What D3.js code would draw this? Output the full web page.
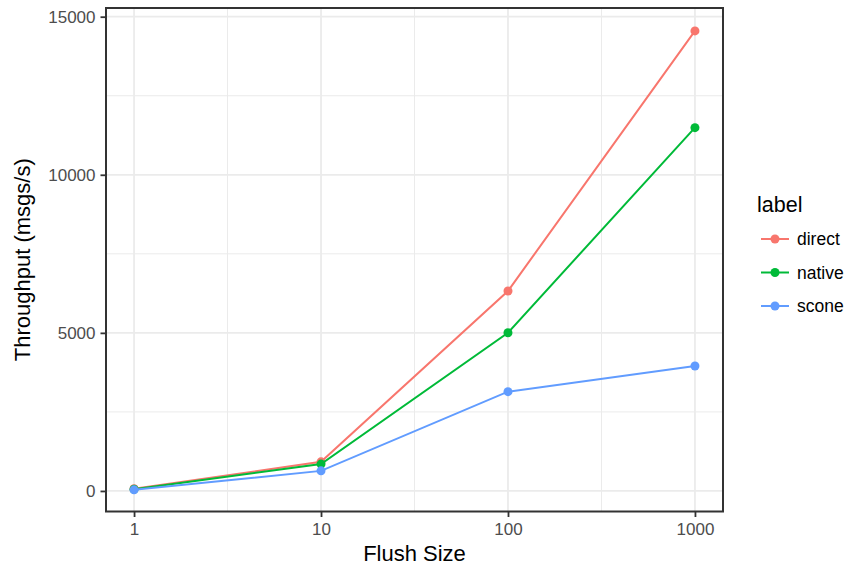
<!DOCTYPE html>
<html>
<head>
<meta charset="utf-8">
<script src="https://cdn.jsdelivr.net/npm/d3@7"></script>
<style>
  body { margin: 0; background: #fff; }
  text { font-family: "Liberation Sans", Arial, sans-serif; }
</style>
</head>
<body>
<svg id="chart"></svg>
<script>
// Flush sizes on the x axis (log scale)
const flushSizes = [1, 10, 100, 1000];

// Throughput per label (msgs/s)
const labels = ["direct", "native", "scone"];
const directValues = [70, 920, 6325, 14550];
const nativeValues = [55, 850, 5005, 11490];
const sconeValues = [35, 635, 3140, 3953];

const yTicks = [0, 5000, 10000, 15000];
const yLimits = [-650, 15275];
const colors = ["#F8766D", "#00BA38", "#619CFF"];

const width = 847;
const height = 570;
const margin = { top: 8, right: 124, bottom: 58.5, left: 106 };

const svg = d3.select("#chart")
  .attr("width", width)
  .attr("height", height);

const series = labels.map((name, i) => ({
  name,
  color: colors[i],
  values: [directValues, nativeValues, sconeValues][i].map((v, j) => ({ x: flushSizes[j], y: v }))
}));

// Scales with ggplot-like 5% expansion on the log x axis
const xLo = Math.log10(1), xHi = Math.log10(1000);
const xPad = (xHi - xLo) * 0.05;
const x = d3.scaleLog()
  .domain([Math.pow(10, xLo - xPad), Math.pow(10, xHi + xPad)])
  .range([margin.left, width - margin.right]);

const y = d3.scaleLinear()
  .domain(yLimits)
  .range([height - margin.bottom, margin.top]);

const plot = svg.append("g");

// Minor gridlines
const xMinor = [Math.sqrt(10), Math.sqrt(1000), Math.sqrt(100000)];
const yMinor = [2500, 7500, 12500];
plot.selectAll(".xminor").data(xMinor).enter().append("line")
  .attr("x1", d => x(d)).attr("x2", d => x(d))
  .attr("y1", margin.top).attr("y2", height - margin.bottom)
  .attr("stroke", "#ebebeb").attr("stroke-width", 1);
plot.selectAll(".yminor").data(yMinor).enter().append("line")
  .attr("x1", margin.left).attr("x2", width - margin.right)
  .attr("y1", d => y(d)).attr("y2", d => y(d))
  .attr("stroke", "#ebebeb").attr("stroke-width", 1);

// Major gridlines
plot.selectAll(".xmajor").data(flushSizes).enter().append("line")
  .attr("x1", d => x(d)).attr("x2", d => x(d))
  .attr("y1", margin.top).attr("y2", height - margin.bottom)
  .attr("stroke", "#ebebeb").attr("stroke-width", 1.8);
plot.selectAll(".ymajor").data(yTicks).enter().append("line")
  .attr("x1", margin.left).attr("x2", width - margin.right)
  .attr("y1", d => y(d)).attr("y2", d => y(d))
  .attr("stroke", "#ebebeb").attr("stroke-width", 1.8);

// Lines and points
const line = d3.line().x(d => x(d.x)).y(d => y(d.y));
series.forEach(s => {
  plot.append("path")
    .datum(s.values)
    .attr("fill", "none")
    .attr("stroke", s.color)
    .attr("stroke-width", 2)
    .attr("d", line);
  plot.selectAll(null).data(s.values).enter().append("circle")
    .attr("cx", d => x(d.x))
    .attr("cy", d => y(d.y))
    .attr("r", 4.5)
    .attr("fill", s.color);
});

// Panel border
svg.append("rect")
  .attr("x", margin.left).attr("y", margin.top)
  .attr("width", width - margin.left - margin.right)
  .attr("height", height - margin.top - margin.bottom)
  .attr("fill", "none").attr("stroke", "#333").attr("stroke-width", 2);

// Axes
const xAxis = svg.append("g")
  .attr("transform", `translate(0,${height - margin.bottom})`)
  .call(d3.axisBottom(x).tickValues(flushSizes).tickFormat(d3.format("d")).tickSize(5.5).tickPadding(6));
const yAxis = svg.append("g")
  .attr("transform", `translate(${margin.left},0)`)
  .call(d3.axisLeft(y).tickValues(yTicks).tickFormat(d3.format("d")).tickSize(5.5).tickPadding(5));

[xAxis, yAxis].forEach(a => {
  a.select(".domain").remove();
  a.selectAll(".tick line").attr("stroke", "#333").attr("stroke-width", 1.8);
  a.selectAll(".tick text")
    .attr("fill", "#4d4d4d")
    .style("font-size", "17px")
    .style("font-family", "'Liberation Sans', Arial, sans-serif");
});

// Axis titles
svg.append("text")
  .attr("x", (margin.left + width - margin.right) / 2)
  .attr("y", 561)
  .attr("text-anchor", "middle")
  .style("font-size", "22px")
  .text("Flush Size");
svg.append("text")
  .attr("transform", `translate(30,${(margin.top + height - margin.bottom) / 2}) rotate(-90)`)
  .attr("text-anchor", "middle")
  .style("font-size", "22px")
  .text("Throughput (msgs/s)");

// Legend
const legend = svg.append("g").attr("transform", "translate(757,0)");
legend.append("text")
  .attr("x", 0).attr("y", 211.5)
  .style("font-size", "21.5px")
  .text("label");
const keys = legend.selectAll(".key").data(series).enter().append("g")
  .attr("transform", (d, i) => `translate(0,${239 + i * 33.5})`);
keys.append("line")
  .attr("x1", 4).attr("x2", 32)
  .attr("stroke", d => d.color).attr("stroke-width", 2);
keys.append("circle")
  .attr("cx", 18).attr("r", 4.5)
  .attr("fill", d => d.color);
keys.append("text")
  .attr("x", 40).attr("y", 6.3)
  .style("font-size", "17.5px")
  .text(d => d.name);
</script>
</body>
</html>
